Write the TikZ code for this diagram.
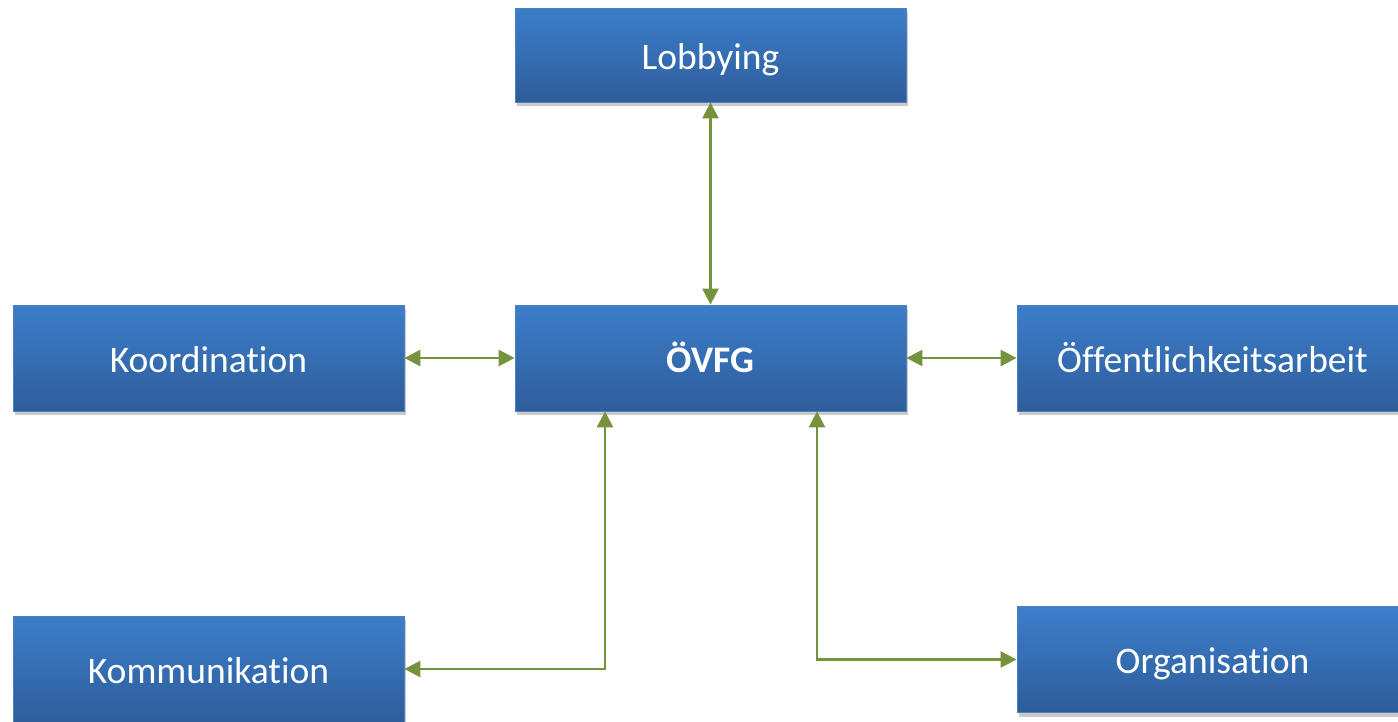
\documentclass[tikz,border=0pt]{standalone}
\usepackage{fontspec}
\setmainfont[RawFeature=-liga]{Carlito}
\usetikzlibrary{arrows.meta,shadows}
\definecolor{boxtop}{HTML}{3C7ECB}
\definecolor{boxbot}{HTML}{2E5D9A}
\definecolor{boxedge}{HTML}{4F7FBF}
\definecolor{conncol}{HTML}{76923C}
\tikzset{
  box/.style={rectangle, minimum width=391pt, minimum height=106pt, inner sep=0pt,
    top color=boxtop, bottom color=boxbot, draw=boxedge, line width=0.8pt,
    text=white, font=\fontsize{37.5}{45}\selectfont, text height=28pt, text depth=0pt,
    drop shadow={shadow xshift=2pt, shadow yshift=-4pt, opacity=0.35, fill=black!60}},
  conn/.style={draw=conncol, line width=2.6pt,
    {Triangle[length=16pt,width=16pt]}-{Triangle[length=16pt,width=16pt]}}
}
\begin{document}
\begin{tikzpicture}[x=1pt,y=-1pt]
\useasboundingbox (0,0) rectangle (1398,721);
\clip (0,0) rectangle (1398,721);
\node[box, minimum height=94pt] (lob) at (710.5,55) {Lobbying};
\node[box] (koo) at (208.5,358) {Koordination};
\node[box] (ov) at (710.5,358) {\textbf{ÖVFG}};
\node[box] (oef) at (1212.5,358) {Öffentlichkeitsarbeit};
\node[box] (kom) at (208.5,669) {Kommunikation};
\node[box] (org) at (1212.5,659.5) {Organisation};
\draw[conn] (lob.south) -- (ov.north);
\draw[conn] (koo.east) -- (ov.west);
\draw[conn] (ov.east) -- (oef.west);
\draw[conn] (kom.east) -| ([xshift=-105.5pt]ov.south);
\draw[conn] ([xshift=106.5pt]ov.south) |- (org.west);
\end{tikzpicture}
\end{document}
